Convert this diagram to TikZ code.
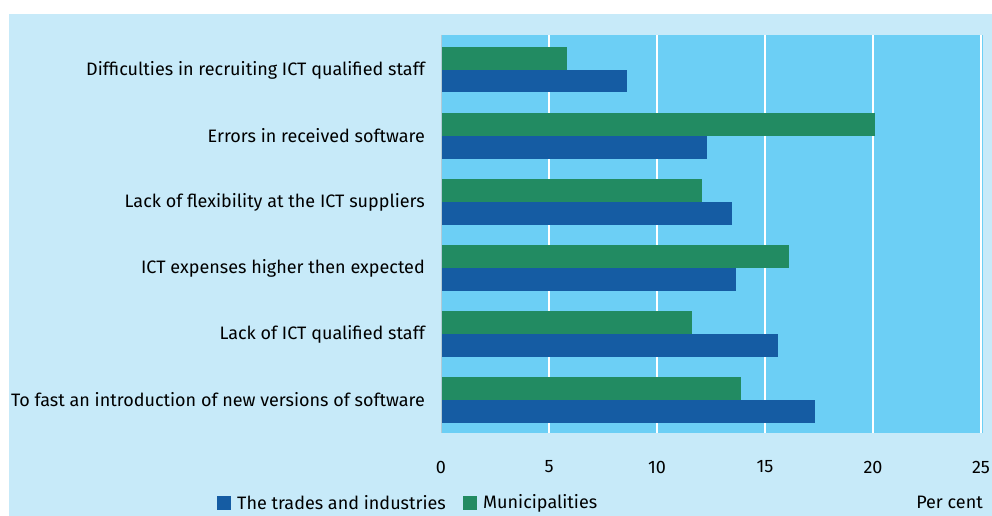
\documentclass[tikz,border=0pt]{standalone}
\usepackage{fontspec}
\setmainfont{Fira Sans}
\usepackage{xcolor}
\usepackage{tikz}

\definecolor{pagebg}{RGB}{199,234,249}
\definecolor{plotbg}{RGB}{108,207,245}
\definecolor{munigreen}{RGB}{34,139,98}
\definecolor{tradesblue}{RGB}{21,92,163}

\tikzset{
  catlabel/.style={anchor=east, inner sep=0pt, font=\fontsize{18}{20}\selectfont},
  ticklabel/.style={anchor=center, inner sep=0pt, font=\fontsize{18}{20}\selectfont},
  legendbox/.style={minimum size=14pt, inner sep=0pt}
}

\begin{document}
\begin{tikzpicture}[x=1pt,y=-1pt]
                \useasboundingbox (0,0) rectangle (992,516);
                % Page background
                \fill [pagebg] (9,14) rectangle (992,516);
                % Plot area
                \fill [plotbg] (441,35) rectangle (983,432.5);
                \draw [pagebg!70!gray] (441.5,35) -- (441.5,432.5);
                % Grid lines
                \foreach \v in {5,10,15,20,25}
                    \draw [white, line width=2pt] ({441+21.6*\v},35) -- ({441+21.6*\v},432.5);
                % Bars: municipalities above, trades and industries below
                \foreach \i/\m/\t in {0/5.85/8.6, 1/20.1/12.3, 2/12.1/13.45,
                                      3/16.1/13.65, 4/11.6/15.6, 5/13.9/17.3}
                {
                    \fill [munigreen] (442,{47+66*\i}) rectangle ({441+21.6*\m},{70+66*\i});
                    \fill [tradesblue] (442,{70+66*\i}) rectangle ({441+21.6*\t},{92.5+66*\i});
                }
                % Category labels
                \node [catlabel] (cat1) at (425,70) {Difficulties in recruiting ICT qualified staff};
                \node [catlabel] (cat2) at (425,136) {Errors in received software};
                \node [catlabel] (cat3) at (425,202) {Lack of flexibility at the ICT suppliers};
                \node [catlabel] (cat4) at (425,268) {ICT expenses higher then expected};
                \node [catlabel] (cat5) at (425,334) {Lack of ICT qualified staff};
                \node [catlabel] (cat6) at (425,400) {To fast an introduction of new versions of software};
                % Axis tick labels
                \foreach \v in {0,5,10,15,20,25}
                    \node [ticklabel] (tick\v) at ({441+21.6*\v},467) {\v};
                \node [ticklabel, anchor=east] (unit) at (983,502) {Per cent};
                % Legend
                \node [legendbox, fill=tradesblue] (keytrades) at (224,503) {};
                \node [ticklabel, anchor=west] (txttrades) at (237,503) {The trades and industries};
                \node [legendbox, fill=munigreen] (keymuni) at (469.5,503) {};
                \node [ticklabel, anchor=west] (txtmuni) at (483,503) {Municipalities};
            \end{tikzpicture}
\end{document}
